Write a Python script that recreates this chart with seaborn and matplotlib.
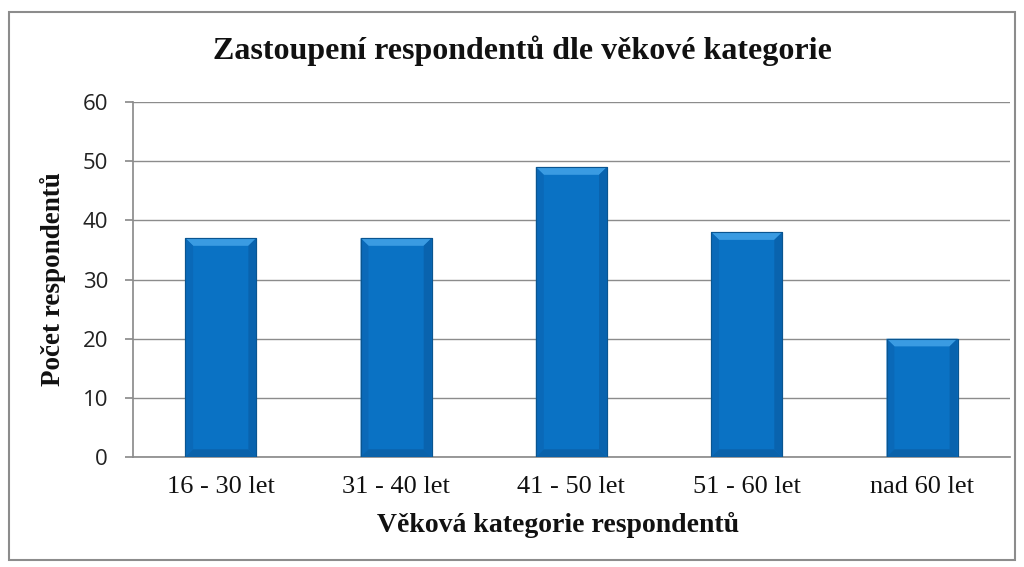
import matplotlib.pyplot as plt
import matplotlib.patches as mpatches
import pandas as pd
import seaborn as sns

categories = ["16 - 30 let", "31 - 40 let", "41 - 50 let", "51 - 60 let", "nad 60 let"]
counts = [37, 37, 49, 38, 20]

df = pd.DataFrame({"kategorie": categories, "pocet": counts})

sns.set_theme(style="white")
serif = ["Liberation Serif", "DejaVu Serif"]
sans = ["Open Sans", "DejaVu Sans"]

fig = plt.figure(figsize=(10.24, 5.67), dpi=100)
ax = fig.add_axes([0.130, 0.194, 0.856, 0.626])

sns.barplot(data=df, x="kategorie", y="pocet", color="#0A72C4", width=0.405,
            edgecolor="#0A5A98", linewidth=0.8, saturation=1, ax=ax, zorder=3)

ax.set_ylim(0, 60)
ax.set_yticks(range(0, 61, 10))
ax.yaxis.grid(True, color="#8C8C8C", linewidth=1.0, zorder=0)
ax.set_axisbelow(True)

# bevel look on each bar (derived from the drawn bar geometry)
bx = 0.045   # bevel width in data units (x)
by = 1.3     # bevel height in data units (y)
for p in list(ax.patches):
    x0, y0 = p.get_x(), p.get_y()
    x1, y1 = x0 + p.get_width(), y0 + p.get_height()
    top = mpatches.Polygon([(x0, y1), (x1, y1), (x1 - bx, y1 - by), (x0 + bx, y1 - by)],
                           closed=True, facecolor="#3A9BE2", edgecolor="none", zorder=4)
    left = mpatches.Polygon([(x0, y0), (x0, y1), (x0 + bx, y1 - by), (x0 + bx, y0 + by)],
                            closed=True, facecolor="#0A69B8", edgecolor="none", zorder=4)
    right = mpatches.Polygon([(x1, y0), (x1, y1), (x1 - bx, y1 - by), (x1 - bx, y0 + by)],
                             closed=True, facecolor="#0963AE", edgecolor="none", zorder=4)
    bottom = mpatches.Polygon([(x0, y0), (x1, y0), (x1 - bx, y0 + by), (x0 + bx, y0 + by)],
                              closed=True, facecolor="#0A62AA", edgecolor="none", zorder=4)
    for poly in (top, left, right, bottom):
        ax.add_patch(poly)
    outline = mpatches.Rectangle((x0, y0), x1 - x0, y1 - y0, fill=False,
                                 edgecolor="#0A5590", linewidth=0.8, zorder=5)
    ax.add_patch(outline)

for s in ["top", "right"]:
    ax.spines[s].set_visible(False)
ax.spines["left"].set_color("#8C8C8C")
ax.spines["bottom"].set_color("#8C8C8C")
ax.tick_params(axis="y", length=6, color="#8C8C8C", left=True, pad=12)
ax.tick_params(axis="x", length=0, pad=14)

for lab in ax.get_yticklabels():
    lab.set_family(sans)
    lab.set_fontsize(16)
    lab.set_color("#222222")
for lab in ax.get_xticklabels():
    lab.set_family(serif)
    lab.set_fontsize(19)
    lab.set_color("#111111")

ax.set_xlabel("Věková kategorie respondentů", family=serif, fontsize=20,
              fontweight="bold", color="#111111")
ax.xaxis.set_label_coords(0.485, -0.155)
ax.set_ylabel("Počet respondentů", family=serif, fontsize=19.5,
              fontweight="bold", labelpad=12, color="#111111")
fig.text(0.51, 0.91, "Zastoupení respondentů dle věkové kategorie", ha="center",
         va="center", family=serif, fontsize=23, fontweight="bold", color="#111111")

# outer chart border
fig.patches.append(mpatches.Rectangle((0.009, 0.012), 0.982, 0.966,
                                      transform=fig.transFigure, fill=False,
                                      edgecolor="#8C8C8C", linewidth=1.5))

fig.savefig("out.png", dpi=100)
plt.close(fig)
